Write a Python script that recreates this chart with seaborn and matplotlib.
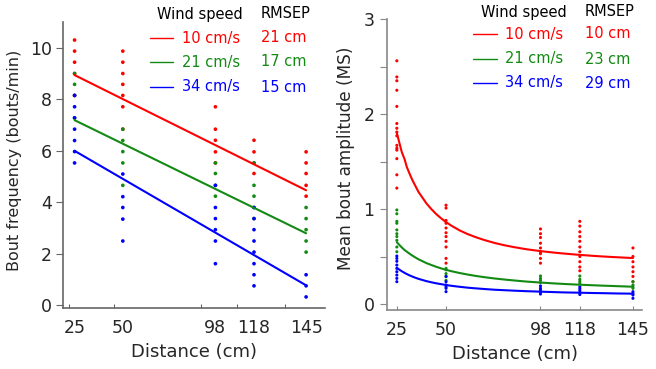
import numpy as np
import pandas as pd
import matplotlib
matplotlib.use("Agg")
import matplotlib.pyplot as plt
from matplotlib.lines import Line2D
import seaborn as sns

# ---------------- data ----------------
speeds = ["10 cm/s", "21 cm/s", "34 cm/s"]
colors = ["#ff0000", "#138a13", "#0000ff"]
distances = [25, 50, 98, 118, 145]

# Bout frequency observations (bouts/min), per wind speed and distance
freq_10 = {25: [10.3, 9.87, 9.44, 9.0, 8.15],
           50: [9.87, 9.44, 9.0, 8.58, 8.15, 7.71, 6.84],
           98: [7.71, 6.84, 6.41, 5.96, 5.53],
           118: [6.41, 5.96, 5.53, 5.12],
           145: [5.96, 5.53, 5.12, 4.66, 4.24]}
freq_21 = {25: [9.0, 8.58, 8.15, 7.28],
           50: [6.84, 6.4, 5.97, 5.53, 4.66],
           98: [5.53, 5.12, 4.66, 4.24],
           118: [5.53, 4.66, 4.24, 3.80, 3.37],
           145: [3.80, 3.37, 2.94, 2.50, 2.07]}
freq_34 = {25: [8.15, 7.71, 7.28, 6.84, 6.40, 5.97, 5.53],
           50: [5.10, 4.22, 3.80, 3.35, 2.50],
           98: [4.66, 3.80, 3.37, 2.94, 2.50, 1.62],
           118: [3.80, 3.37, 2.94, 2.50, 2.07, 1.62, 1.19, 0.76],
           145: [1.19, 0.76, 0.33]}

# Linear fits of bout frequency, evaluated at the end distances
fit_freq_dist = [25, 145]
fit_freq_10 = [8.94, 4.47]
fit_freq_21 = [7.19, 2.80]
fit_freq_34 = [6.00, 0.78]

# Mean bout amplitude observations (MS)
amp_10 = {25: [2.56, 2.39, 2.35, 2.25, 2.08, 1.90, 1.85, 1.81, 1.77, 1.67, 1.64, 1.62, 1.53, 1.36, 1.22],
          50: [1.04, 1.01, 0.88, 0.85, 0.80, 0.75, 0.71, 0.66, 0.60, 0.48, 0.43],
          98: [0.79, 0.74, 0.70, 0.64, 0.59, 0.55, 0.53, 0.48, 0.43],
          118: [0.87, 0.82, 0.76, 0.71, 0.66, 0.60, 0.55, 0.50, 0.445, 0.39, 0.35],
          145: [0.59, 0.50, 0.445, 0.39, 0.34, 0.29, 0.235]}
amp_21 = {25: [0.99, 0.95, 0.87, 0.85, 0.78, 0.74, 0.71, 0.67, 0.60, 0.55],
          50: [0.375, 0.36, 0.32, 0.29, 0.25],
          98: [0.295, 0.27, 0.25, 0.225],
          118: [0.295, 0.26, 0.24, 0.22],
          145: [0.235, 0.20, 0.18, 0.165]}
amp_34 = {25: [0.505, 0.48, 0.45, 0.41, 0.375, 0.34, 0.305, 0.27, 0.235],
          50: [0.29, 0.235, 0.20, 0.18, 0.165, 0.13],
          98: [0.19, 0.165, 0.147, 0.125, 0.105],
          118: [0.18, 0.16, 0.14, 0.12, 0.10],
          145: [0.13, 0.11, 0.095, 0.06]}

# Fitted amplitude curves
fit_amp_dist = [25, 26, 27.5, 29, 30, 31.5, 33, 34.5, 36, 38, 40, 42.5, 45, 47.5, 50, 53,
                57, 61, 65, 70, 75, 80, 85, 91, 98, 104, 110, 118, 124, 130, 137, 145]
fit_amp_10 = [1.80, 1.72, 1.60, 1.52, 1.446, 1.37, 1.30, 1.24, 1.18, 1.12, 1.06, 1.00,
              0.947, 0.902, 0.862, 0.821, 0.774, 0.736, 0.704, 0.670, 0.641, 0.617, 0.597,
              0.576, 0.557, 0.543, 0.531, 0.517, 0.508, 0.500, 0.492, 0.484]
fit_amp_21 = [0.65, 0.628, 0.596, 0.567, 0.552, 0.529, 0.508, 0.489, 0.471, 0.451, 0.431,
              0.411, 0.392, 0.375, 0.360, 0.344, 0.326, 0.310, 0.296, 0.281, 0.268, 0.257,
              0.247, 0.236, 0.226, 0.218, 0.211, 0.203, 0.198, 0.193, 0.188, 0.182]
fit_amp_34 = [0.38, 0.366, 0.345, 0.327, 0.316, 0.301, 0.288, 0.276, 0.265, 0.253, 0.241,
              0.229, 0.218, 0.209, 0.200, 0.191, 0.181, 0.172, 0.165, 0.157, 0.150, 0.145,
              0.140, 0.135, 0.130, 0.126, 0.122, 0.119, 0.116, 0.114, 0.111, 0.109]

rmsep_freq = ["21 cm", "17 cm", "15 cm"]
rmsep_amp = ["10 cm", "23 cm", "29 cm"]


def long_points(groups, name):
    rows = []
    for sp, g in zip(speeds, groups):
        for d, vals in g.items():
            for v in vals:
                rows.append({"speed": sp, "distance": d, name: v})
    return pd.DataFrame(rows)


def long_fit(xs, series, name):
    rows = []
    for sp, ys in zip(speeds, series):
        for x, y in zip(xs, ys):
            rows.append({"speed": sp, "distance": x, name: y})
    return pd.DataFrame(rows)


pts_f = long_points([freq_10, freq_21, freq_34], "freq")
fit_f = long_fit(fit_freq_dist, [fit_freq_10, fit_freq_21, fit_freq_34], "freq")
pts_a = long_points([amp_10, amp_21, amp_34], "amp")
fit_a = long_fit(fit_amp_dist, [fit_amp_10, fit_amp_21, fit_amp_34], "amp")

# ---------------- figure ----------------
sns.set_style("white")
plt.rcParams["font.family"] = ["DejaVu Sans"]
W, H = 656, 369
fig = plt.figure(figsize=(W / 100, H / 100), dpi=100)
palette = dict(zip(speeds, colors))


def px_axes(x0, y0, x1, y1):
    return fig.add_axes([x0 / W, 1 - y1 / H, (x1 - x0) / W, (y1 - y0) / H])


ax1 = px_axes(63, 22, 325, 308)
ax2 = px_axes(387, 19, 642, 310)

# left: bout frequency
sns.scatterplot(data=pts_f, x="distance", y="freq", hue="speed", palette=palette,
                s=7, edgecolor="none", legend=False, ax=ax1, zorder=2)
sns.lineplot(data=fit_f, x="distance", y="freq", hue="speed", palette=palette,
             lw=1.5, legend=False, ax=ax1, zorder=3)
ax1.set_xlim(19, 154.8)
ax1.set_ylim(-0.1, 11)
ax1.set_yticks([0, 2, 4, 6, 8, 10])
ax1.set_xticks(distances)
ax1.set_xticks([22.2, 45.5, 90.5, 109.2, 134], minor=True)
ax1.tick_params(axis="x", which="major", length=0, pad=8, labelsize=12.5)
ax1.tick_params(axis="x", which="minor", direction="in", length=3, width=0.8,
                color="#666666", bottom=True)
ax1.tick_params(axis="y", direction="out", length=5, width=0.8, color="#666666",
                pad=3, labelsize=12.5, left=True)
ax1.set_xlabel("Distance (cm)", fontsize=13)
ax1.set_ylabel("Bout frequency (bouts/min)", fontsize=11.5)
ax1.yaxis.set_label_coords(-0.156, 0.517)
for side in ["top", "right"]:
    ax1.spines[side].set_visible(False)
for side in ["left", "bottom"]:
    ax1.spines[side].set_color("#666666")
    ax1.spines[side].set_linewidth(1.2)

# right: mean bout amplitude
sns.scatterplot(data=pts_a, x="distance", y="amp", hue="speed", palette=palette,
                s=5, edgecolor="none", legend=False, ax=ax2, zorder=2)
sns.lineplot(data=fit_a, x="distance", y="amp", hue="speed", palette=palette,
             lw=1.5, legend=False, ax=ax2, zorder=3)
ax2.set_xlim(20, 149.6)
ax2.set_ylim(-0.063, 3)
ax2.set_xticks(distances)
ax2.set_yticks([0, 0.5, 1, 1.5, 2, 2.5, 3])
ax2.set_yticklabels(["0", "", "1", "", "2", "", "3"])
ax2.tick_params(axis="x", direction="in", length=3, width=0.8, color="#888888",
                pad=8, labelsize=12.5, bottom=True)
ax2.tick_params(axis="y", direction="out", length=5, width=0.8, color="#888888",
                pad=4, labelsize=12.5, left=True)
ax2.set_xlabel("Distance (cm)", fontsize=13)
ax2.set_ylabel("Mean bout amplitude (MS)", fontsize=12.2)
ax2.yaxis.set_label_coords(-0.125, 0.522)
for side in ["top", "right"]:
    ax2.spines[side].set_visible(False)
for side in ["left", "bottom"]:
    ax2.spines[side].set_color("#888888")
    ax2.spines[side].set_linewidth(1.2)


# legend-like tables of wind speed and RMSEP
def table(hdr_y, rows_y, line_x0, line_x1, speed_right, hdr_speed_right, val_left, vals):
    fig.text(hdr_speed_right / W, 1 - hdr_y / H, "Wind speed", ha="right", va="center",
             fontsize=10.5, color="black")
    fig.text(val_left / W, 1 - hdr_y / H, "RMSEP", ha="left", va="center",
             fontsize=10.5, color="black")
    for sp, c, v, y in zip(speeds, colors, vals, rows_y):
        fig.add_artist(Line2D([line_x0 / W, line_x1 / W], [1 - y / H, 1 - y / H],
                              color=c, lw=1.0, transform=fig.transFigure))
        fig.text(speed_right / W, 1 - y / H, sp, ha="right", va="center",
                 fontsize=10.5, color=c)
        fig.text(val_left / W, 1 - y / H, v, ha="left", va="center",
                 fontsize=10.5, color=c)


table(14, [38, 62, 87], 150, 173, 240, 243, 261, rmsep_freq)
table(12, [34, 59, 83], 473, 497, 563, 567, 585, rmsep_amp)

fig.savefig("out.png", dpi=100)
